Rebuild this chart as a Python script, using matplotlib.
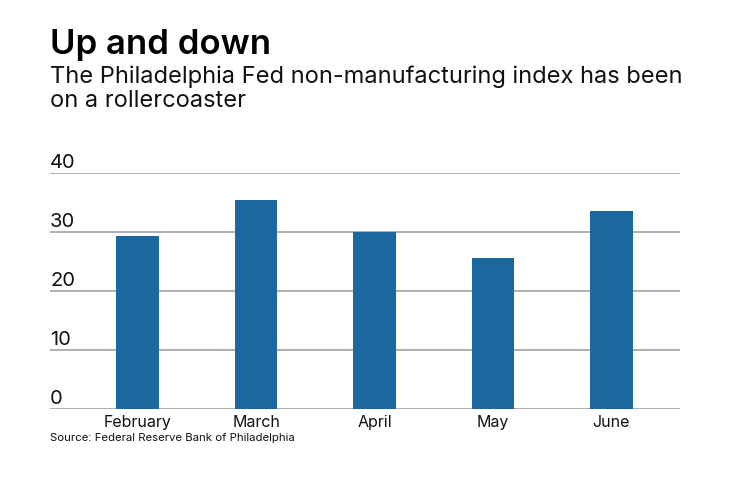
import matplotlib.pyplot as plt
from matplotlib.transforms import blended_transform_factory

# -----------------------------
# Data
# -----------------------------
months = ["February", "March", "April", "May", "June"]
index_values = [29.3, 35.4, 30.0, 25.6, 33.6]
y_ticks = [0, 10, 20, 30, 40]

bar_color = "#1b67a0"
grid_color = "#9a9a9a"

plt.rcParams["font.family"] = ["Inter", "DejaVu Sans"]

fig = plt.figure(figsize=(7.4, 4.82), dpi=100)
ax = fig.add_axes([0.0676, 0.1515, 0.919 - 0.0676, 0.641 - 0.1515])

x = list(range(len(months)))
ax.bar(x, index_values, width=0.36, color=bar_color, zorder=2)

ax.set_xlim(-0.74, 4.58)
ax.set_ylim(0, 40)

for v in y_ticks:
    ax.axhline(v, color=grid_color, linewidth=1.1, zorder=1)

# y labels sit just above their gridlines, flush left
trans = blended_transform_factory(ax.transAxes, ax.transData)
for v in y_ticks:
    ax.annotate(str(v), xy=(0, v), xycoords=trans, xytext=(0, 0.5),
                textcoords="offset points", ha="left", va="bottom",
                fontsize=14.5, color="#111111")

for s in ax.spines.values():
    s.set_visible(False)
ax.set_yticks([])
ax.set_xticks(x)
ax.set_xticklabels(months, fontsize=11.5, color="#111111")
ax.tick_params(axis="x", length=0, pad=4)

fig.text(0.0676, 0.888, "Up and down", fontsize=25, fontweight="semibold",
         ha="left", va="baseline", color="#000000")
fig.text(0.0676, 0.828, "The Philadelphia Fed non-manufacturing index has been",
         fontsize=17, ha="left", va="baseline", color="#111111")
fig.text(0.0676, 0.778, "on a rollercoaster",
         fontsize=17, ha="left", va="baseline", color="#111111")
fig.text(0.0676, 0.092, "Source: Federal Reserve Bank of Philadelphia",
         fontsize=8.2, ha="left", va="center", color="#111111")

fig.savefig("out.png", dpi=100)
